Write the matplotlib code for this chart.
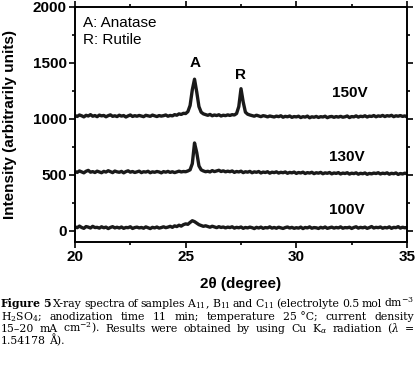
import numpy as np
import matplotlib
matplotlib.use("Agg")
import matplotlib.pyplot as plt
from matplotlib.ticker import MultipleLocator

plt.rcParams['font.family'] = ['Liberation Sans', 'DejaVu Sans']
plt.rcParams['mathtext.fontset'] = 'dejavuserif'

# 2theta grid (degree), step 0.1
two_theta = np.round(np.arange(200, 351) / 10.0, 1)

counts_150V = [
    1030, 1022, 1035, 1028, 1018, 1032, 1026, 1038, 1024, 1030,
    1020, 1034, 1027, 1031, 1019, 1029, 1036, 1023, 1028, 1021,
    1033, 1025, 1030, 1017, 1027, 1035, 1022, 1029, 1024, 1031,
    1026, 1020, 1032, 1028, 1023, 1034, 1027, 1021, 1030, 1025,
    1029, 1035, 1024, 1031, 1027, 1038, 1033, 1045, 1040, 1050,
    1048, 1065, 1120, 1260, 1355, 1240, 1110, 1060, 1045, 1038,
    1032, 1040, 1028, 1035, 1030, 1037, 1026, 1033, 1029, 1036,
    1031, 1038, 1035, 1048, 1110, 1270, 1150, 1060, 1042, 1035,
    1030, 1024, 1033, 1027, 1020, 1029, 1025, 1018, 1026, 1022,
    1017, 1025, 1020, 1028, 1015, 1023, 1019, 1026, 1014, 1021,
    1018, 1024, 1012, 1020, 1016, 1025, 1010, 1019, 1015, 1022,
    1013, 1020, 1017, 1024, 1011, 1019, 1022, 1014, 1021, 1016,
    1023, 1015, 1019, 1026, 1012, 1021, 1018, 1027, 1016, 1024,
    1020, 1028, 1017, 1025, 1022, 1030, 1019, 1027, 1023, 1031,
    1021, 1029, 1025, 1032, 1020, 1028, 1024, 1030, 1022, 1027, 1018]

counts_130V = [
    530, 522, 535, 527, 518, 532, 540, 524, 529, 521,
    533, 526, 519, 531, 525, 537, 528, 520, 534, 527,
    523, 531, 518, 529, 536, 524, 530, 521, 527, 533,
    520, 528, 525, 532, 519, 527, 523, 530, 526, 518,
    529, 524, 531, 522, 528, 520, 527, 533, 526, 530,
    528, 535, 545, 600, 785, 700, 580, 545, 535, 528,
    532, 526, 538, 529, 535, 541, 530, 536, 527, 533,
    528, 535, 522, 530, 526, 533, 520, 528, 524, 531,
    519, 527, 523, 530, 517, 525, 521, 528, 515, 524,
    520, 527, 516, 523, 519, 526, 514, 522, 518, 525,
    513, 521, 517, 524, 512, 520, 516, 523, 511, 519,
    515, 522, 510, 518, 514, 521, 509, 517, 513, 520,
    508, 516, 512, 519, 507, 515, 511, 518, 506, 514,
    510, 517, 505, 513, 509, 516, 512, 519, 508, 515,
    511, 518, 506, 514, 510, 517, 504, 512, 508, 515, 510]

counts_100V = [
    35, 28, 42, 30, 22, 38, 33, 25, 40, 29,
    31, 24, 36, 27, 33, 20, 30, 37, 26, 32,
    25, 34, 22, 30, 28, 36, 21, 29, 33, 26,
    30, 23, 35, 27, 20, 31, 26, 34, 24, 29,
    36, 28, 33, 40, 31, 44, 38, 50, 42, 55,
    62, 58, 75, 90, 82, 68, 55, 48, 40, 45,
    38, 32, 41, 35, 28, 37, 30, 34, 26, 33,
    29, 36, 24, 31, 27, 34, 22, 30, 26, 33,
    28, 20, 31, 25, 33, 22, 29, 26, 35, 24,
    30, 23, 32, 27, 21, 29, 34, 25, 31, 22,
    28, 24, 33, 20, 30, 26, 35, 23, 29, 27,
    21, 31, 25, 34, 22, 28, 33, 24, 30, 26,
    35, 23, 29, 27, 32, 21, 30, 36, 24, 31,
    27, 33, 22, 29, 38, 25, 31, 28, 34, 23,
    30, 26, 35, 22, 31, 28, 37, 24, 32, 27, 30]

series_labels = ['150V', '130V', '100V']
label_pos = [(32.4, 1231), (32.3, 659), (32.3, 186)]
peak_labels = [('A', 25.42, 1500), ('R', 27.5, 1392)]

caption_lines = [
    [('Figure', True), ('5', True), ('X-ray', False), ('spectra', False), ('of', False),
     ('samples', False), ('A$_{11}$,', False), ('B$_{11}$', False), ('and', False),
     ('C$_{11}$', False), ('(electrolyte', False), ('0.5', False), ('mol', False),
     ('dm$^{-3}$', False)],
    [('H$_{2}$SO$_{4}$;', False), ('anodization', False), ('time', False), ('11', False),
     ('min;', False), ('temperature', False), ('25 \u00b0C;', False), ('current', False),
     ('density', False)],
    [('15\u201320', False), ('mA', False), ('cm$^{-2}$).', False), ('Results', False),
     ('were', False), ('obtained', False), ('by', False), ('using', False), ('Cu', False),
     ('K$_{\\alpha}$', False), ('radiation', False), ('($\\lambda$', False), ('=', False)],
    [('1.54178', False), ('\u00c5).', False)],
]
caption_baselines = [307, 320, 332, 344]

W, H = 416, 369
fig = plt.figure(figsize=(W / 100, H / 100), dpi=100)
ax = fig.add_axes([75 / W, 1 - 242 / H, 332 / W, 235 / H])

for y in (counts_150V, counts_130V, counts_100V):
    ax.plot(two_theta, y, color='#1a1a1a', lw=2.4, solid_joinstyle='round')

ax.set_xlim(20, 35)
ax.set_ylim(-100, 2000)
ax.xaxis.set_major_locator(MultipleLocator(5))
ax.xaxis.set_minor_locator(MultipleLocator(2.5))
ax.yaxis.set_major_locator(MultipleLocator(500))
ax.yaxis.set_minor_locator(MultipleLocator(250))
ax.tick_params(which='both', direction='out', top=True, right=True, width=1.2,
               labelsize=11, pad=2)
ax.tick_params(which='major', length=4)
ax.tick_params(which='minor', length=2.5)
for lab in ax.get_xticklabels() + ax.get_yticklabels():
    lab.set_fontweight('bold')
for s in ax.spines.values():
    s.set_linewidth(1.4)

ax.set_xlabel('2\u03b8 (degree)', fontsize=11, fontweight='bold', labelpad=9)
ax.set_ylabel('Intensity (arbitrarily units)', fontsize=11, fontweight='bold', labelpad=11)

for lab, (x, y) in zip(series_labels, label_pos):
    ax.text(x, y, lab, fontsize=11, fontweight='bold', ha='center', va='center')
for lab, x, y in peak_labels:
    ax.text(x, y, lab, fontsize=11, fontweight='bold', ha='center', va='center')
ax.text(20.36, 1857, 'A: Anatase', fontsize=11, va='center')
ax.text(20.36, 1705, 'R: Rutile', fontsize=11, va='center')

# caption, justified word by word
renderer = fig.canvas.get_renderer()
x0, x1 = 1, 414
for i, (words, base) in enumerate(zip(caption_lines, caption_baselines)):
    texts = [fig.text(0, 1 - base / H, w, fontsize=7.8, family='DejaVu Serif',
                      fontweight='bold' if b else 'normal', va='baseline')
             for w, b in words]
    widths = [t.get_window_extent(renderer).width for t in texts]
    if i < len(caption_lines) - 1:
        gap = (x1 - x0 - sum(widths)) / (len(texts) - 1)
    else:
        gap = 3.0
    pos = x0
    for t, w in zip(texts, widths):
        t.set_x(pos / W)
        pos += w + gap

fig.savefig('out.png', dpi=100)
